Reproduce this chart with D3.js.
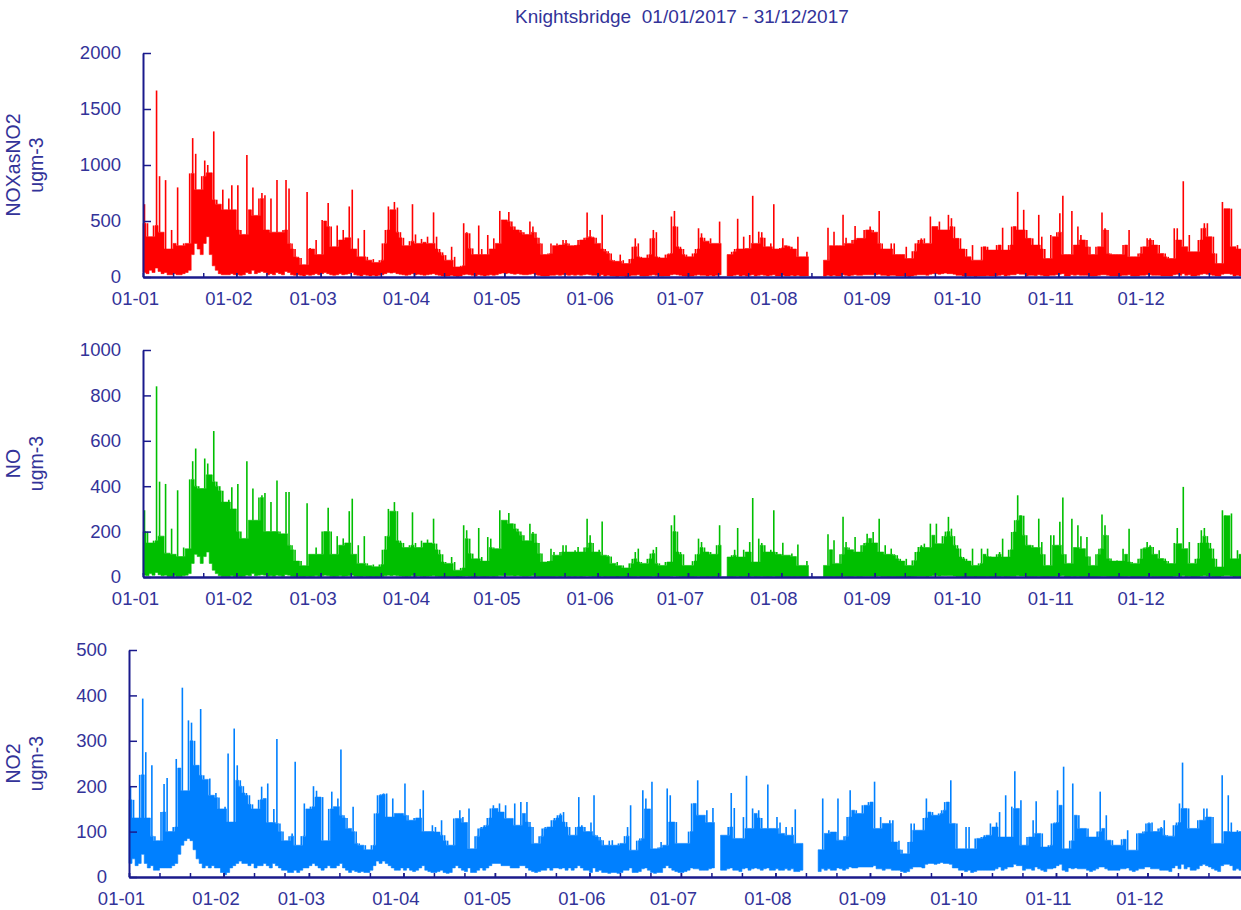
<!DOCTYPE html>
<html>
<head>
<meta charset="utf-8">
<script src="https://cdn.jsdelivr.net/npm/d3@7"></script>
<style>
  body { margin: 0; background: #fff; }
  text { font-family: "Liberation Sans", Arial, sans-serif; fill: #333399; }
</style>
</head>
<body>
<svg id="chart" width="1241" height="910"></svg>
<script>
// daily highest / lowest hourly value, 01/01/2017 .. 31/12/2017 (null = no data)
var noxMax = [
  650,480,360,460,1665,900,400,865,250,420,300,800,280,300,300,925,1240,1100,780,900,1040,1000,930,1300,690,650,780,600,700,820,600,
  820,420,380,1090,600,800,550,700,750,730,420,700,400,865,400,420,865,790,300,250,180,170,110,760,260,250,330,200,
  510,500,660,450,270,460,330,420,350,630,780,250,345,180,420,180,150,160,130,150,300,420,630,600,670,620,400,350,280,320,650,
  380,300,340,310,360,300,577,360,250,220,195,150,270,180,90,100,480,400,390,255,200,460,250,200,375,250,345,300,590,510,
  510,580,495,450,420,420,400,380,495,450,400,350,300,200,210,300,280,300,285,330,330,300,280,285,330,330,350,577,420,360,350,
  300,555,250,230,210,150,140,200,150,120,160,270,345,300,180,170,200,345,420,400,180,170,200,210,540,590,450,270,250,200,
  180,210,250,435,390,350,320,345,300,300,495,null,null,200,225,250,520,250,360,255,375,725,300,405,400,350,270,300,650,250,260,
  345,280,280,270,250,360,180,180,225,null,null,null,null,null,150,440,280,405,280,280,555,350,300,330,455,345,345,420,420,450,420,
  400,590,300,250,250,300,300,200,200,200,270,165,230,300,330,345,345,300,540,450,450,495,420,420,555,525,450,345,345,250,
  250,180,285,150,150,270,270,270,240,240,285,285,440,240,285,450,450,760,420,600,420,345,345,285,555,360,250,165,375,360,400,
  570,725,200,200,590,285,450,375,330,330,270,200,270,270,577,435,420,210,200,200,200,285,285,420,180,180,210,270,270,345,
  345,330,285,285,210,210,180,165,435,435,330,855,270,375,225,225,330,435,480,480,360,360,210,120,670,610,610,610,270,285,250
];
var noxMin = [
  40,30,60,40,80,50,30,40,20,20,30,20,20,30,40,60,200,300,250,200,300,360,200,100,60,30,20,20,20,30,20,
  20,15,20,40,30,60,30,40,50,40,20,30,20,40,30,20,50,40,20,15,20,15,10,20,15,20,30,20,
  30,40,30,20,15,20,30,20,25,30,40,20,15,10,20,15,10,15,10,15,20,30,40,35,40,30,25,20,15,20,30,
  20,25,20,15,20,25,30,20,15,10,8,10,15,10,5,8,20,25,20,15,10,20,15,10,15,20,15,20,30,35,
  30,35,30,25,30,25,20,20,25,30,20,15,10,8,10,15,15,20,15,20,20,15,20,15,20,15,20,25,20,15,15,
  10,20,10,15,10,8,5,10,8,5,10,15,15,20,10,8,10,15,20,15,10,8,10,10,20,25,20,15,10,8,
  8,10,15,20,15,15,10,15,10,15,20,null,null,10,10,15,20,10,15,10,15,20,10,15,20,15,10,15,20,10,10,
  15,10,10,15,10,15,8,8,10,null,null,null,null,null,8,15,10,15,10,10,20,15,10,15,20,15,15,20,20,20,20,
  20,25,15,15,10,15,15,10,10,10,8,5,10,15,20,20,20,15,25,30,30,25,30,35,30,30,25,15,15,10,
  10,8,10,5,8,10,10,12,10,10,12,15,20,10,15,20,20,30,25,25,10,15,15,12,20,15,10,8,15,15,20,
  25,30,10,10,20,15,20,15,15,15,10,8,10,15,20,20,15,10,10,10,10,15,15,20,10,8,10,15,15,20,
  20,15,15,15,10,10,10,8,20,25,15,30,15,20,10,10,15,25,30,25,20,15,10,8,25,30,30,25,10,15,10
];
var noMax = [
  294,200,150,160,840,420,180,410,105,213,100,382,90,130,124,430,510,566,400,390,522,500,450,643,420,400,380,330,340,395,300,
  410,200,170,510,250,390,250,350,360,370,200,330,200,425,200,190,375,375,140,120,70,70,50,325,100,100,130,100,
  200,200,305,200,100,180,140,170,150,290,345,100,140,60,180,60,50,55,45,55,120,180,300,290,330,290,160,150,130,140,285,
  150,130,160,150,165,150,257,147,120,100,66,60,88,66,30,40,228,206,169,103,80,216,88,70,176,169,130,125,294,250,
  250,282,235,235,213,200,184,160,235,198,190,150,103,66,70,125,110,96,110,140,140,110,110,118,132,110,130,257,184,150,110,
  120,245,96,96,90,60,66,50,51,40,60,80,110,125,66,60,80,103,120,132,60,51,66,66,228,272,200,110,100,51,
  51,70,100,169,154,130,110,110,100,140,228,null,null,88,96,120,216,88,120,110,154,348,66,169,150,140,110,120,294,110,100,
  151,96,96,103,90,143,51,51,70,null,null,null,null,null,51,188,120,162,60,100,265,154,130,120,176,110,140,150,191,170,198,
  150,257,110,140,100,125,100,96,80,70,80,51,73,110,132,140,147,130,235,184,235,147,180,200,265,213,180,140,125,88,
  80,70,125,51,60,125,100,125,90,88,100,110,169,88,120,198,250,360,272,270,184,140,140,130,257,154,100,51,184,184,140,
  243,350,100,60,257,130,228,180,125,176,90,51,100,125,275,228,184,81,70,73,70,125,100,213,66,60,80,125,130,154,
  140,132,100,118,81,81,70,59,150,216,147,397,125,154,60,80,150,206,216,180,150,125,80,44,294,272,270,280,80,118,100
];
var noMin = [
  8,5,15,8,20,10,5,8,2,2,5,2,2,5,8,15,60,100,90,60,90,110,60,30,15,5,2,2,2,5,2,
  3,2,3,8,5,15,5,8,10,8,3,5,3,8,5,3,10,8,3,2,3,2,1,3,2,3,5,3,
  5,8,5,3,2,3,5,3,4,5,8,3,2,1,3,2,1,2,1,2,3,5,8,6,8,5,4,3,2,3,5,
  3,4,3,2,3,4,5,3,2,1,1,1,2,1,0,1,3,4,3,2,1,3,2,1,2,3,2,3,5,6,
  5,6,5,4,5,4,3,3,4,5,3,2,1,1,1,2,2,3,2,3,3,2,3,2,3,2,3,4,3,2,2,
  1,3,1,2,1,1,0,1,1,0,1,2,2,3,1,1,1,2,3,2,1,1,1,1,3,4,3,2,1,1,
  1,1,2,3,2,2,1,2,1,2,3,null,null,1,1,2,3,1,2,1,2,3,1,2,3,2,1,2,3,1,1,
  2,1,1,2,1,2,1,1,1,null,null,null,null,null,1,2,1,2,1,1,3,2,1,2,3,2,2,3,3,3,3,
  3,4,2,2,1,2,2,1,1,1,1,0,1,2,3,3,3,2,4,5,5,4,5,6,5,5,4,2,2,1,
  1,1,1,0,1,1,1,2,1,1,2,2,3,1,2,3,3,5,4,4,1,2,2,2,3,2,1,1,2,2,3,
  4,5,1,1,3,2,3,2,2,2,1,1,1,2,3,3,2,1,1,1,1,2,2,3,1,1,1,2,2,3,
  3,2,2,2,1,1,1,1,3,4,2,5,2,3,1,1,2,4,5,4,3,2,1,1,4,5,5,4,1,2,1
];
var no2Max = [
  200,170,130,225,393,275,130,246,90,80,143,205,218,100,110,260,240,417,190,345,340,300,246,370,224,215,217,180,185,175,150,
  155,272,121,327,246,213,200,185,180,160,150,170,199,173,206,120,150,304,118,100,80,90,96,254,70,90,162,150,
  155,200,190,176,176,80,150,188,155,173,281,136,130,107,155,100,74,70,70,60,70,140,180,182,184,184,132,173,140,140,140,
  206,136,125,130,130,150,191,100,100,114,110,99,125,92,80,70,129,129,147,132,120,151,62,90,107,110,114,130,151,158,
  151,162,143,158,129,129,162,114,165,140,165,121,110,74,90,107,110,110,125,130,136,140,143,121,110,92,110,176,114,110,100,
  120,180,92,88,81,70,80,81,70,74,74,90,110,158,59,80,85,191,173,150,210,62,65,77,70,195,180,121,121,74,
  74,74,100,162,162,213,136,136,147,120,152,null,null,92,92,110,185,152,85,85,132,223,107,151,140,147,130,107,204,107,107,
  132,120,96,110,92,110,149,74,74,null,null,null,null,null,60,173,96,103,99,99,173,81,90,132,191,147,147,140,158,158,165,
  165,210,107,132,118,118,125,125,77,80,60,51,77,118,118,103,103,130,173,143,143,136,140,147,165,165,213,118,118,62,
  62,110,110,62,85,85,88,92,92,118,110,120,143,88,180,88,155,233,151,169,70,88,88,125,167,96,96,66,70,118,120,
  191,158,243,62,80,206,136,136,107,107,107,88,88,100,188,107,136,81,81,70,70,83,83,103,59,59,96,96,100,118,
  120,120,100,107,110,125,92,90,114,120,162,252,151,151,107,107,125,125,151,151,132,132,74,74,224,100,180,120,99,103,100
];
var no2Min = [
  30,40,25,30,50,30,20,25,15,15,20,20,20,20,25,30,50,70,80,85,80,60,40,30,20,25,20,25,20,20,10,
  5,10,20,25,30,35,30,30,25,30,20,25,25,30,25,20,30,25,20,15,15,10,10,15,10,15,20,20,
  25,30,25,20,15,20,25,20,20,25,30,20,15,10,15,12,10,12,10,10,15,25,35,30,35,30,25,20,15,15,20,
  15,20,15,12,15,20,25,15,12,10,10,12,15,10,8,10,20,25,20,15,12,20,10,10,15,20,15,20,25,30,
  30,30,25,25,25,20,20,20,25,25,20,15,12,10,12,15,15,20,15,20,20,18,20,15,20,15,20,25,20,15,15,
  10,20,12,15,10,10,8,10,10,8,10,15,15,20,10,10,12,18,20,15,10,8,10,10,20,25,20,15,12,10,
  10,12,15,20,18,18,15,15,15,18,20,null,null,15,15,18,20,15,15,12,18,20,15,18,20,18,15,18,20,15,15,
  18,15,15,18,15,18,12,12,15,null,null,null,null,null,12,18,15,18,15,15,20,18,15,18,22,20,20,22,22,22,22,
  22,25,18,18,15,18,18,15,15,15,12,10,12,18,22,22,22,20,28,30,30,28,30,32,30,30,28,20,20,15,
  15,12,15,10,12,15,15,15,15,15,15,18,22,15,18,22,22,28,25,25,15,18,18,15,22,18,15,12,18,18,20,
  25,28,15,12,20,18,20,18,18,18,15,12,15,18,22,22,18,15,15,15,15,18,18,20,15,12,15,18,18,22,
  22,18,18,18,15,15,15,12,20,25,18,28,18,22,15,15,18,25,28,25,22,18,15,12,25,28,28,25,15,18,15
];

var noxTicks = [0, 500, 1000, 1500, 2000];
var noTicks = [0, 200, 400, 600, 800, 1000];
var no2Ticks = [0, 100, 200, 300, 400, 500];
var titleText = "Knightsbridge  01/01/2017 - 31/12/2017";

var start = new Date(Date.UTC(2017, 0, 1));
var end = new Date(Date.UTC(2018, 0, 1));
var monthStarts = d3.utcMonths(start, end);
var minorDays = d3.utcDays(start, end).filter(function (d) {
    var n = d.getUTCDate();
    return n == 1 || n == 11 || n == 21;
});

var axisColor = "#1a1a8c";
var svg = d3.select("#chart");

svg.append("text")
    .attr("x", 515).attr("y", 23)
    .style("font-size", "19px")
    .style("white-space", "pre")
    .text(titleText);

var panels = [
    {name: "NOXasNO2", hi: noxMax, lo: noxMin, ticks: noxTicks, color: "#ff0000", left: 143, top: 53, bottom: 277},
    {name: "NO", hi: noMax, lo: noMin, ticks: noTicks, color: "#00bf00", left: 143, top: 350, bottom: 577},
    {name: "NO2", hi: no2Max, lo: no2Min, ticks: no2Ticks, color: "#0080ff", left: 129, top: 650, bottom: 877}
];

panels.forEach(function (p) {
    var x = d3.scaleUtc().domain([start, end]).range([p.left, 1242]);
    var y = d3.scaleLinear().domain([0, d3.max(p.ticks)]).range([p.bottom, p.top]);

    // block height of a day = lowest of itself and its neighbours, the rest is drawn as a thin spike
    var days = p.hi.map(function (v, i) {
        if (v == null) return {i: i, hi: null};
        var nb = [p.hi[i - 1], p.hi[i + 1]].filter(function (n) { return n != null; });
        var body = Math.min(v, d3.min(nb.length ? nb : [v]));
        return {i: i, hi: v, lo: p.lo[i], body: Math.max(body, p.lo[i])};
    });

    var pts = [];
    days.forEach(function (d) {
        var t0 = d3.utcDay.offset(start, d.i), t1 = d3.utcDay.offset(start, d.i + 1);
        if (d.hi == null) { pts.push({t: t0, top: null}); return; }
        pts.push({t: t0, top: d.body, lo: d.lo});
        pts.push({t: t1, top: d.body, lo: d.lo});
    });

    var area = d3.area()
        .defined(function (d) { return d.top != null; })
        .x(function (d) { return x(d.t); })
        .y0(function (d) { return y(d.lo); })
        .y1(function (d) { return y(d.top); });

    svg.append("path")
        .attr("d", area(pts))
        .attr("fill", p.color)
        .attr("stroke", p.color)
        .attr("stroke-width", 0.6);

    svg.append("g").selectAll("line")
        .data(days.filter(function (d) { return d.hi != null && d.hi > d.body; }))
        .join("line")
        .attr("x1", function (d) { return x(d3.utcHour.offset(start, d.i * 24 + 12)); })
        .attr("x2", function (d) { return x(d3.utcHour.offset(start, d.i * 24 + 12)); })
        .attr("y1", function (d) { return y(d.body); })
        .attr("y2", function (d) { return y(d.hi); })
        .attr("stroke", p.color)
        .attr("stroke-width", 1.6);

    // y axis, ticks pointing inwards
    var gy = svg.append("g")
        .attr("transform", "translate(" + p.left + ",0)")
        .call(d3.axisLeft(y).tickValues(p.ticks).tickFormat(d3.format("d"))
            .tickSizeInner(-8).tickSizeOuter(0).tickPadding(22));
    gy.selectAll("text").style("font-size", "18.5px").attr("fill", null);

    // minor ticks on 1st, 11th, 21st
    svg.append("g")
        .attr("transform", "translate(0," + p.bottom + ")")
        .call(d3.axisBottom(x).tickValues(minorDays).tickFormat("").tickSizeInner(-4).tickSizeOuter(0));

    var gx = svg.append("g")
        .attr("transform", "translate(0," + p.bottom + ")")
        .call(d3.axisBottom(x).tickValues(monthStarts).tickFormat(d3.utcFormat("%d-%m"))
            .tickSizeInner(-4).tickSizeOuter(0).tickPadding(15));
    gx.selectAll("text").style("font-size", "18.5px").attr("fill", null).attr("dx", -8);

    svg.selectAll(".domain").attr("stroke", axisColor).attr("stroke-width", 2);
    svg.selectAll(".tick line").attr("stroke", axisColor).attr("stroke-width", 1.5);

    var cy = (p.top + p.bottom) / 2;
    svg.append("text")
        .attr("transform", "translate(20," + cy + ") rotate(-90)")
        .attr("text-anchor", "middle")
        .style("font-size", "19.5px")
        .text(p.name);
    svg.append("text")
        .attr("transform", "translate(43," + cy + ") rotate(-90)")
        .attr("text-anchor", "middle")
        .style("font-size", "19.5px")
        .text("ugm-3");
});
</script>
</body>
</html>
